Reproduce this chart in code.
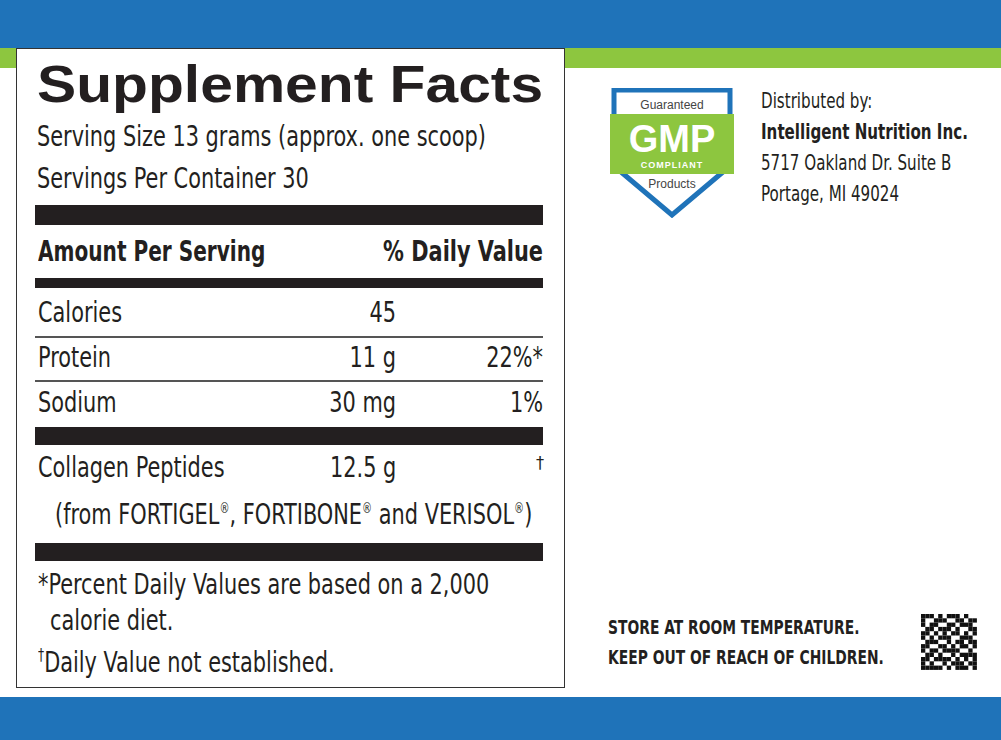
<!DOCTYPE html>
<html><head><meta charset="utf-8">
<script src="https://cdn.jsdelivr.net/npm/chart.js@4"></script>
<style>
body{margin:0;width:1001px;height:740px;position:relative;background:#fff;overflow:hidden;font-family:"Liberation Sans Narrow","DejaVu Sans Condensed",sans-serif;color:#231f20}
.a{position:absolute;white-space:nowrap}
.bar{position:absolute;left:35px;width:508px;background:#231f20}
.thin{position:absolute;left:35px;width:508px;height:1.5px;background:#555}
.t{font-size:29px;transform:scaleX(0.8);transform-origin:left top}
.r{transform:translateX(-100%) scaleX(0.8);transform-origin:right top}
</style></head><body>
<div class="a" style="left:0;top:0;width:1001px;height:48px;background:#1f73b9"></div>
<div class="a" style="left:0;top:48px;width:1001px;height:20px;background:#8dc63f"></div>
<div class="a" style="left:0;top:697px;width:1001px;height:43px;background:#1f73b9"></div>
<div class="a" style="left:16px;top:48px;width:547px;height:638px;background:#fff;border:1.5px solid #333"></div>
<div class="a" style="left:37px;top:54px;font:bold 52px 'Liberation Sans',sans-serif;transform:scaleX(1.13);transform-origin:left top">Supplement Facts</div>
<div id="serv"></div>
<div class="bar" style="top:205px;height:20px"></div>
<div class="a t" style="left:38px;top:234px;font-weight:bold;transform:scaleX(0.77)">Amount Per Serving</div>
<div class="a t r" style="left:543px;top:234px;font-weight:bold">% Daily Value</div>
<div class="bar" style="top:278px;height:10px"></div>
<div id="rows"></div>
<div class="bar" style="top:427px;height:18px"></div>
<div class="a t" style="left:38px;top:450px">Collagen Peptides</div>
<div class="a t" style="left:330px;top:450px">12.5 g</div>
<div class="a" style="left:536px;top:452px;font-size:18px">†</div>
<div class="a t" style="left:55px;top:497px">(from FORTIGEL<sup style="font-size:14px">®</sup>, FORTIBONE<sup style="font-size:14px">®</sup> and VERISOL<sup style="font-size:14px">®</sup>)</div>
<div class="bar" style="top:543px;height:18px"></div>
<div class="a t" style="left:38px;top:567px">*Percent Daily Values are based on a 2,000</div>
<div class="a t" style="left:50px;top:603px">calorie diet.</div>
<div class="a t" style="left:38px;top:645px"><span style="font-size:17px;vertical-align:top">†</span>Daily Value not established.</div>
<svg class="a" style="left:608px;top:88px" width="128" height="130" viewBox="0 0 128 130">
<path d="M6 2 H122 V78 L64 127 L6 78 Z" fill="#fff" stroke="#1f73b9" stroke-width="5"/>
<rect x="2" y="26" width="124" height="60" fill="#8dc63f"/>
<text x="64" y="21" font-family="Liberation Sans" font-size="12" text-anchor="middle" fill="#444">Guaranteed</text>
<text x="64" y="64" font-family="Liberation Sans" font-weight="bold" font-size="38" text-anchor="middle" fill="#fff">GMP</text>
<text x="64" y="80" font-family="Liberation Sans" font-weight="bold" font-size="9" text-anchor="middle" fill="#fff" letter-spacing="1">COMPLIANT</text>
<text x="64" y="100" font-family="Liberation Sans" font-size="12" text-anchor="middle" fill="#444">Products</text>
</svg>
<div class="a" style="left:761px;top:86px;font-size:21px;line-height:31px;transform:scaleX(0.8);transform-origin:left top">Distributed by:<br><b>Intelligent Nutrition Inc.</b><br>5717 Oakland Dr. Suite B<br>Portage, MI 49024</div>
<div class="a" style="left:608px;top:612px;font-size:20px;font-weight:bold;line-height:30px;transform:scaleX(0.77);transform-origin:left top">STORE AT ROOM TEMPERATURE.<br>KEEP OUT OF REACH OF CHILDREN.</div>
<canvas id="qr" class="a" style="left:921px;top:614px" width="56" height="56"></canvas>
<script>
const servingLines=["Serving Size 13 grams (approx. one scoop)","Servings Per Container 30"];
const nutrients=["Calories","Protein","Sodium"];
const amounts=["45","11 g","30 mg"];
const dailyValues=["","22%*","1%"];
let h="";
servingLines.forEach((s,i)=>h+=`<div class="a t" style="left:37px;top:${119+i*42}px">${s}</div>`);
document.getElementById('serv').innerHTML=h;
h="";
nutrients.forEach((n,i)=>{const y=295+i*45;
h+=`<div class="a t" style="left:38px;top:${y}px">${n}</div><div class="a t r" style="left:396px;top:${y}px">${amounts[i]}</div><div class="a t r" style="left:543px;top:${y}px">${dailyValues[i]}</div>`;
if(i<2)h+=`<div class="thin" style="top:${336+i*44}px"></div>`;});
document.getElementById('rows').innerHTML=h;
const c=document.getElementById('qr').getContext('2d');
const qrBits=["1110101110100","1001110011011","1011001101110","0110111010011","1101010110101","1010111001110","0111001011011","1100110101101","1011011110010","0110100101111","1101111010101","1010010111011","1111101011101"];
c.fillStyle="#111";qrBits.forEach((r,y)=>[...r].forEach((b,x)=>{if(b==="1")c.fillRect(x*4.3,y*4.3,4.3,4.3);}));
</script>
</body></html>
